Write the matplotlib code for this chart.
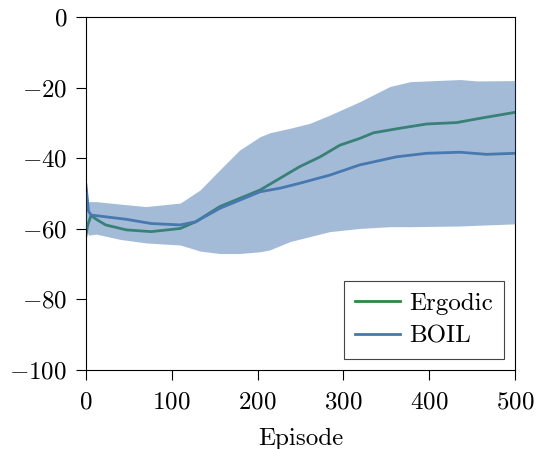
import matplotlib
matplotlib.use('Agg')
import matplotlib.pyplot as plt

plt.rcParams['font.family'] = 'cmr10'
plt.rcParams['mathtext.fontset'] = 'cm'
plt.rcParams['axes.formatter.use_mathtext'] = True
plt.rcParams['font.size'] = 18

# values
ergodic_x = [0, 2, 6, 12, 23, 47, 76, 110, 128, 156, 203, 226, 249, 273, 296, 319, 335, 366, 397,
             432, 459, 500]
ergodic_y = [-62, -59, -56.2, -57.3, -58.9, -60.3, -60.8, -59.9, -58, -53.7, -49, -45.7, -42.4,
             -39.6, -36.3, -34.4, -32.8, -31.5, -30.3, -29.9, -28.7, -27]

boil_x = [0, 3, 6, 23, 47, 76, 110, 128, 156, 203, 226, 249, 284, 319, 362, 397, 436, 467, 500]
boil_y = [-47.5, -55, -56.1, -56.6, -57.3, -58.5, -58.9, -58, -54.2, -49.5, -48.5, -47.1, -44.8,
          -41.9, -39.6, -38.6, -38.3, -38.9, -38.6]

band_x = [0, 3, 12, 40, 70, 110, 133, 156, 179, 203, 214, 238, 261, 284, 319, 354, 378, 436, 456, 500]
band_hi = [-49, -52.3, -52.3, -53, -53.7, -52.7, -49, -43.3, -37.7, -33.9, -32.8, -31.5, -30.1,
           -27.8, -24, -19.7, -18.3, -17.7, -18.1, -18]
band_lo = [-60, -61.8, -61.5, -63, -64, -64.6, -66.3, -67, -67, -66.5, -66, -63.6, -62.2, -60.8,
           -59.9, -59.4, -59.4, -59.2, -59, -58.6]

green = '#2a8a3e'
blue = '#4878b0'

fig = plt.figure(figsize=(5.37, 4.49), dpi=100)
ax = fig.add_axes([0.160, 0.176, 0.799, 0.786])

ax.plot(ergodic_x, ergodic_y, color=green, lw=2, label='Ergodic', zorder=2)
ax.plot(boil_x, boil_y, color=blue, lw=2, label='BOIL', zorder=2)
ax.fill_between(band_x, band_lo, band_hi, color=blue, alpha=0.5, lw=0, zorder=3)

ax.set_xlim(0, 500)
ax.set_ylim(-100, 0)
ax.set_xticks([0, 100, 200, 300, 400, 500])
ax.set_yticks([-100, -80, -60, -40, -20, 0])
ax.tick_params(direction='out', length=7.5, width=0.8, top=False, right=False)
ax.tick_params(axis='x', pad=8)
ax.tick_params(axis='y', pad=6)
ax.set_xlabel('Episode', labelpad=10)

leg = ax.legend(loc='lower right', fancybox=False, edgecolor='#444444', framealpha=1,
                handlelength=1.8, handletextpad=0.35, borderaxespad=0.45, borderpad=0.45,
                labelspacing=0.4)
leg.get_frame().set_linewidth(0.8)
leg.set_zorder(5)

fig.savefig('out.png', dpi=100)
